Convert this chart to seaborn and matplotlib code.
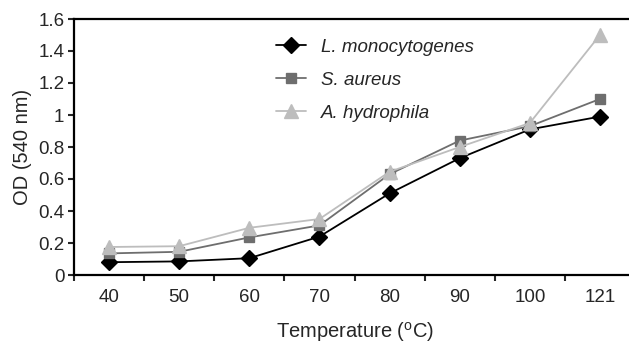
import matplotlib
matplotlib.use("Agg")
import matplotlib.pyplot as plt
import seaborn as sns
import pandas as pd
import numpy as np

temps = ["40", "50", "60", "70", "80", "90", "100", "121"]
l_mono = [0.08, 0.085, 0.105, 0.24, 0.51, 0.73, 0.91, 0.99]
s_aureus = [0.135, 0.145, 0.235, 0.31, 0.63, 0.84, 0.93, 1.10]
a_hydro = [0.175, 0.18, 0.295, 0.35, 0.645, 0.80, 0.95, 1.50]
series_names = ["L. monocytogenes", "S. aureus", "A. hydrophila"]
colors = ["#000000", "#6e6e6e", "#bdbdbd"]
markers = ["D", "s", "^"]

sns.set_style("ticks")
fam = "Liberation Sans"
plt.rcParams['font.family'] = [fam, 'DejaVu Sans']
plt.rcParams['mathtext.fontset'] = 'custom'
plt.rcParams['mathtext.rm'] = fam

df = pd.DataFrame({
    "Temperature": temps * 3,
    "OD": l_mono + s_aureus + a_hydro,
    "Species": sum([[n] * len(temps) for n in series_names], []),
})

fig = plt.figure(figsize=(6.29, 3.44), dpi=100)
ax = fig.add_axes([74/629, 1 - 275/344, 561/629, 256/344])

sns.pointplot(data=df, x="Temperature", y="OD", hue="Species", order=temps,
              hue_order=series_names, palette=colors, markers=markers,
              linestyles="-", linewidth=1.3, markersize=8, ax=ax, errorbar=None)

sizes = {"D": 8.5, "s": 7, "^": 9.5}
for ln in ax.lines:
    m = ln.get_marker()
    if m in sizes:
        ln.set_markersize(sizes[m])

ax.set_xlim(-0.5, 7.5)
ax.set_ylim(0, 1.6)
ax.set_yticks(np.arange(0, 1.61, 0.2))
ax.set_yticklabels(["0", "0.2", "0.4", "0.6", "0.8", "1", "1.2", "1.4", "1.6"])
ax.set_xticks(np.arange(-0.5, 7.6, 1.0), minor=True)
ax.tick_params(axis="x", which="major", length=0, labelsize=13.5, pad=10)
ax.tick_params(axis="x", which="minor", length=4, width=1.5, direction="out")
ax.tick_params(axis="y", labelsize=13.5, length=4, width=1.5, direction="out", pad=3)
for s in ["left", "bottom", "top"]:
    ax.spines[s].set_linewidth(1.6)
    ax.spines[s].set_color("black")
ax.spines["right"].set_visible(False)

ax.set_xlabel(r"Temperature ($^{\mathregular{o}}$C)", fontsize=14.5, labelpad=10)
ax.set_ylabel("OD (540 nm)", fontsize=14.5, labelpad=4)

handles, labels = ax.get_legend_handles_labels()
leg = ax.legend(handles, labels, loc="upper left", bbox_to_anchor=(0.33, 0.99),
                frameon=False, handlelength=1.6, handletextpad=0.8, labelspacing=0.85,
                prop={"style": "italic", "size": 13.5, "family": [fam, "DejaVu Sans"]})

fig.savefig("out.png", dpi=100)
